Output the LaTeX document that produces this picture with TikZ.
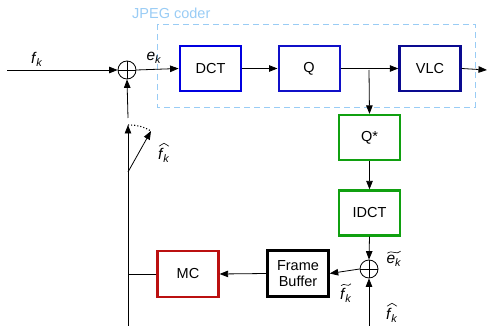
\documentclass[tikz,border=0pt]{standalone}
\usepackage{fontspec}
\setmainfont{Liberation Sans}
\usetikzlibrary{arrows.meta,calc}
\definecolor{coderblue}{HTML}{99CCF5}
\definecolor{dctblue}{HTML}{0000E0}
\definecolor{qblue}{HTML}{1010C8}
\definecolor{vlcnavy}{HTML}{0A0A90}
\definecolor{qgreen}{HTML}{10A010}
\definecolor{mcred}{HTML}{BB1010}
\newcommand{\fk}{\textit{f}\textsubscript{\kern-.5pt\textit{k}}}
\newcommand{\ek}{\textit{e}\textsubscript{\textit{k}}}
% wide hat and wide tilde drawn over a label node
\newcommand{\hatover}[1]{\draw[line width=0.6pt,line join=round]
  ($(#1.north west)+(1,-1.5)$) -- ($(#1.north)+(0,-4.5)$) -- ($(#1.north east)+(-1,-1.5)$);}
\newcommand{\tildeover}[1]{\draw[line width=0.6pt]
  ($(#1.north west)+(1,-2)$) .. controls ($(#1.north west)!0.33!(#1.north east)+(0,-6)$) and
  ($(#1.north west)!0.67!(#1.north east)+(0,0.5)$) .. ($(#1.north east)+(-1,-4)$);}
\begin{document}
\begin{tikzpicture}[x=1pt,y=-1pt,
  font=\fontsize{14.5}{16}\selectfont,
  blk/.style={draw,rectangle,minimum width=61pt,minimum height=45pt,inner sep=0pt,align=center},
  sumnode/.style={draw,circle,line width=0.8pt,minimum size=18pt,inner sep=0pt,
    path picture={\draw[line width=0.7pt] (path picture bounding box.north) -- (path picture bounding box.south)
      (path picture bounding box.west) -- (path picture bounding box.east);}},
  conn/.style={line width=0.8pt},
  arr/.style={conn,-{Triangle[length=8.5pt,width=6.5pt]}},
  lbl/.style={inner sep=0pt,font=\fontsize{15.5}{17}\selectfont}]
\useasboundingbox (0,0) rectangle (487,326);

% JPEG coder frame
\draw[coderblue,dashed,dash pattern=on 6pt off 4pt,line width=0.9pt] (157,24) rectangle (475,107);
\node[inner sep=0pt,coderblue,anchor=west] (coderlbl) at (132,13) {JPEG coder};

% blocks
\node[blk,draw=dctblue,line width=2.8pt] (dct) at (210.5,68.5) {DCT};
\node[blk,draw=qblue,line width=2pt] (q) at (309,68.5) {Q};
\node[blk,draw=vlcnavy,line width=2.4pt] (vlc) at (430,68.5) {VLC};
\node[blk,draw=qgreen,line width=2.2pt] (qs) at (369.5,137.5) {Q*};
\node[blk,draw=qgreen,line width=2.2pt] (idct) at (369.5,213) {IDCT};
\node[blk,draw=black,line width=2.4pt,minimum height=46pt,font=\fontsize{14.5}{16.5}\selectfont] (fb) at (298,273.5) {Frame\\Buffer};
\node[blk,draw=mcred,line width=2.2pt,minimum height=46pt] (mc) at (188,274) {MC};

% adders
\node[sumnode] (s1) at (127,70) {};
\node[sumnode] (s2) at (369,269) {};

% free ends and switch points
\coordinate (in) at (7,70);
\coordinate (out) at (487,70);
\coordinate (branch) at (369,70);
\coordinate (fbot) at (369,326);
\coordinate (vbot) at (128,326);
\coordinate (vjoin) at (128,274);
\coordinate (pivot) at (128,172);
\coordinate (swup) at (128,125);
\coordinate (swdiag) at (151,131);
\coordinate (swtop) at (128,118);

% forward path
\draw[arr] (in) -- (s1.west);
\draw[arr] (s1.east) -- (dct.west);
\draw[arr] (dct.east) -- (q.west);
\draw[arr] (q.east) -- (vlc.west);
\draw[arr] (vlc.east) -- (out);
\draw[arr] (branch) -- (qs.north);
\draw[arr] (qs.south) -- (idct.north);
\draw[arr] (idct.south) -- (s2.north);
\draw[arr] (fbot) -- (s2.south);
\draw[arr] (s2.west) -- (fb.east);
\draw[arr] (fb.west) -- (mc.east);

% prediction feedback with switch
\draw[conn] (mc.west) -- (vjoin);
\draw[conn] (vbot) -- (pivot);
\draw[arr] (pivot) -- (swup);
\draw[arr] (pivot) -- (swdiag);
\draw[line width=1.1pt,dotted] (swup) to[bend left=15] (swdiag);
\draw[arr] (swtop) -- (s1.south);

% signal labels
\node[lbl] (lfk) at (37,59) {\fk};
\node[lbl] (lek) at (154,58) {\ek};
\node[lbl] (lfhat1) at (164,155) {\fk};
\node[lbl] (letil) at (394,261) {\ek};
\node[lbl] (lftil) at (346,295) {\fk};
\node[lbl] (lfhat2) at (392,315) {\fk};
\hatover{lfhat1}
\hatover{lfhat2}
\tildeover{letil}
\tildeover{lftil}
\end{tikzpicture}
\end{document}
